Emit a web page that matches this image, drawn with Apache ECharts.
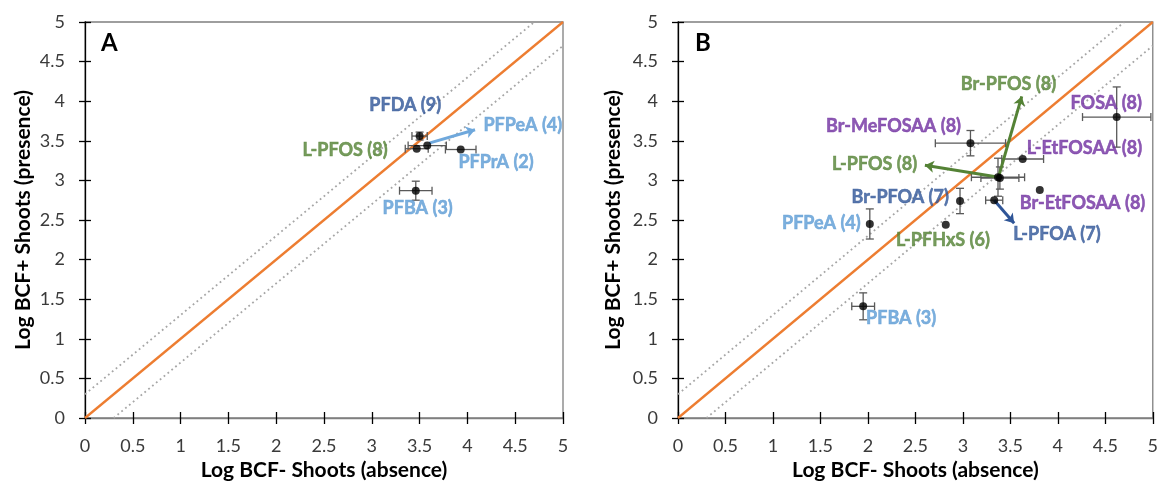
<!DOCTYPE html>
<html><head><meta charset="utf-8">
<script src="https://cdn.jsdelivr.net/npm/echarts@6/dist/echarts.min.js"></script>
<style>html,body{margin:0;padding:0;background:#fff}#c{width:1161px;height:488px}</style>
</head><body><div id="c"></div>
<script>
// ---- data ----
const axisMin = 0, axisMax = 5, tickStep = 0.5;
const refOffset = 0.3; // dotted lines y = x ± offset

const aNames = ['PFDA (9)', 'L-PFOS (8)', 'PFPeA (4)', 'PFPrA (2)', 'PFBA (3)'];
const aX    = [3.50, 3.47, 3.58, 3.93, 3.46];
const aY    = [3.56, 3.40, 3.44, 3.39, 2.87];
const aXErr = [0.08, 0.12, 0.20, 0.16, 0.17];
const aYErr = [0.05, 0.00, 0.00, 0.00, 0.12];

const bNames = ['FOSA (8)', 'Br-MeFOSAA (8)', 'L-EtFOSAA (8)', 'L-PFOS (8)', 'Br-PFOS (8)', 'Br-EtFOSAA (8)', 'L-PFOA (7)', 'Br-PFOA (7)', 'PFPeA (4)', 'L-PFHxS (6)', 'PFBA (3)'];
const bX    = [4.62, 3.08, 3.63, 3.37, 3.39, 3.81, 3.33, 2.97, 2.02, 2.82, 1.95];
const bY    = [3.80, 3.47, 3.27, 3.04, 3.03, 2.88, 2.75, 2.74, 2.45, 2.44, 1.41];
const bXErr = [0.36, 0.37, 0.22, 0.28, 0.20, 0.00, 0.09, 0.00, 0.00, 0.00, 0.12];
const bYErr = [0.38, 0.16, 0.00, 0.24, 0.14, 0.00, 0.00, 0.16, 0.19, 0.00, 0.17];

// ---- annotations (label anchors and arrows, in data units) ----
const lightBlue = '#5B9BD5', darkBlue = '#2F5597', green = '#548235', purple = '#7030A0';
const aLabels = [
  {t: 'PFDA (9)',   x: 3.35, y: 3.95, c: darkBlue},
  {t: 'L-PFOS (8)', x: 2.72, y: 3.38, c: green},
  {t: 'PFPeA (4)',  x: 4.58, y: 3.70, c: lightBlue},
  {t: 'PFPrA (2)',  x: 4.30, y: 3.23, c: lightBlue},
  {t: 'PFBA (3)',   x: 3.48, y: 2.65, c: lightBlue}
];
const bLabels = [
  {t: 'Br-PFOS (8)',    x: 3.48, y: 4.22, c: green},
  {t: 'FOSA (8)',       x: 4.51, y: 3.98, c: purple},
  {t: 'Br-MeFOSAA (8)', x: 2.27, y: 3.68, c: purple},
  {t: 'L-EtFOSAA (8)',  x: 4.28, y: 3.41, c: purple},
  {t: 'L-PFOS (8)',     x: 2.07, y: 3.21, c: green},
  {t: 'Br-PFOA (7)',    x: 2.34, y: 2.79, c: darkBlue},
  {t: 'Br-EtFOSAA (8)', x: 4.26, y: 2.71, c: purple},
  {t: 'PFPeA (4)',      x: 1.51, y: 2.46, c: lightBlue},
  {t: 'L-PFHxS (6)',    x: 2.79, y: 2.25, c: green},
  {t: 'L-PFOA (7)',     x: 3.99, y: 2.32, c: darkBlue},
  {t: 'PFBA (3)',       x: 2.35, y: 1.26, c: lightBlue}
];
const aArrows = [
  {from: [3.60, 3.47], to: [4.08, 3.64], c: '#6FA8DC'}
];
const bArrows = [
  {from: [3.38, 3.06], to: [3.62, 4.06], c: green},
  {from: [3.38, 3.04], to: [2.60, 3.19], c: green},
  {from: [3.33, 2.75], to: [3.54, 2.46], c: darkBlue}
];

// ---- chart ----
const FONT = 'Lato, "Open Sans", sans-serif';
const chart = echarts.init(document.getElementById('c'), null, {renderer: 'canvas'});

function fmt(v) { return String(v); }

function makeAxes(gi, isX, nameGap) {
  const main = {
    type: 'value', gridIndex: gi, min: axisMin, max: axisMax, interval: tickStep,
    splitLine: {show: false},
    axisLine: {show: true, onZero: false, lineStyle: {color: isX ? '#7f7f7f' : '#000', width: 1.3}},
    axisTick: {show: true, length: 6, lineStyle: {color: '#000', width: 1.3}},
    axisLabel: {color: '#3a3a3a', fontSize: 18, fontFamily: FONT, margin: isX ? 19 : 20, formatter: fmt},
    name: isX ? 'Log BCF- Shoots (absence)' : 'Log BCF+ Shoots (presence)',
    nameLocation: 'middle', nameGap: nameGap,
    nameTextStyle: {fontSize: 21, fontWeight: 'bold', color: '#000', fontFamily: FONT}
  };
  const inner = {
    type: 'value', gridIndex: gi, min: axisMin, max: axisMax, interval: tickStep,
    position: isX ? 'bottom' : 'left',
    splitLine: {show: false},
    axisLine: {show: false},
    axisTick: {show: true, inside: true, length: 6, lineStyle: {color: '#000', width: 1.3}},
    axisLabel: {show: false}
  };
  return [main, inner];
}

const xAxes = [].concat(makeAxes(0, true, 37), makeAxes(1, true, 37));
const yAxes = [].concat(makeAxes(0, false, 51), makeAxes(1, false, 54));

function errSeries(gi, xs, ys, xe, ye) {
  const data = xs.map((x, i) => [x, ys[i], xe[i], ye[i]]);
  return {
    type: 'custom', xAxisIndex: gi * 2, yAxisIndex: gi * 2, z: 3,
    data: data,
    renderItem: function (params, api) {
      const x = api.value(0), y = api.value(1), ex = api.value(2), ey = api.value(3);
      const children = [];
      const st = {stroke: '#595959', lineWidth: 1.3};
      const cap = 4;
      if (ex > 0) {
        const p1 = api.coord([x - ex, y]), p2 = api.coord([x + ex, y]);
        children.push({type: 'line', shape: {x1: p1[0], y1: p1[1], x2: p2[0], y2: p2[1]}, style: st});
        children.push({type: 'line', shape: {x1: p1[0], y1: p1[1] - cap, x2: p1[0], y2: p1[1] + cap}, style: st});
        children.push({type: 'line', shape: {x1: p2[0], y1: p2[1] - cap, x2: p2[0], y2: p2[1] + cap}, style: st});
      }
      if (ey > 0) {
        const p1 = api.coord([x, y - ey]), p2 = api.coord([x, y + ey]);
        children.push({type: 'line', shape: {x1: p1[0], y1: p1[1], x2: p2[0], y2: p2[1]}, style: st});
        children.push({type: 'line', shape: {x1: p1[0] - cap, y1: p1[1], x2: p1[0] + cap, y2: p1[1]}, style: st});
        children.push({type: 'line', shape: {x1: p2[0] - cap, y1: p2[1], x2: p2[0] + cap, y2: p2[1]}, style: st});
      }
      return {type: 'group', children: children};
    }
  };
}

function refSeries(gi) {
  const base = {type: 'line', xAxisIndex: gi * 2, yAxisIndex: gi * 2, symbol: 'none', silent: true};
  return [
    Object.assign({}, base, {data: [[axisMin, axisMin + refOffset], [axisMax - refOffset, axisMax]], z: 1,
      lineStyle: {color: '#A6A6A6', width: 1.8, type: [1.8, 3.2]}}),
    Object.assign({}, base, {data: [[axisMin + refOffset, axisMin], [axisMax, axisMax - refOffset]], z: 1,
      lineStyle: {color: '#A6A6A6', width: 1.8, type: [1.8, 3.2]}}),
    Object.assign({}, base, {data: [[axisMin, axisMin], [axisMax, axisMax]], z: 2,
      lineStyle: {color: '#ED7D31', width: 2.3}})
  ];
}

function pointSeries(gi, xs, ys) {
  return {
    type: 'scatter', xAxisIndex: gi * 2, yAxisIndex: gi * 2, z: 5,
    symbolSize: 8, itemStyle: {color: '#000'},
    data: xs.map((x, i) => [x, ys[i]])
  };
}

function labelSeries(gi, labels) {
  return {
    type: 'scatter', xAxisIndex: gi * 2, yAxisIndex: gi * 2, z: 6, symbolSize: 1,
    itemStyle: {color: 'rgba(0,0,0,0)'}, silent: true,
    data: labels.map(l => ({
      value: [l.x, l.y],
      label: {show: true, position: 'inside', formatter: l.t, color: l.c,
        textBorderColor: l.c, textBorderWidth: 0.5,
        fontSize: 18, fontWeight: 'bold', fontFamily: FONT}
    }))
  };
}

function arrowSeries(gi, arrows) {
  return {
    type: 'lines', coordinateSystem: 'cartesian2d', xAxisIndex: gi * 2, yAxisIndex: gi * 2, z: 4,
    symbol: ['none', 'arrow'], symbolSize: 9,
    data: arrows.map(a => ({coords: [a.from, a.to], lineStyle: {color: a.c, width: 3}})),
    lineStyle: {opacity: 1}
  };
}

const option = {
  animation: false,
  backgroundColor: '#fff',
  title: [
    {text: 'A', left: 96, top: 26, textStyle: {fontSize: 24, fontWeight: 'bold', color: '#000', fontFamily: FONT}},
    {text: 'B', left: 690, top: 26, textStyle: {fontSize: 24, fontWeight: 'bold', color: '#000', fontFamily: FONT}}
  ],
  grid: [
    {left: 85, right: 598, top: 22, bottom: 70, show: true, borderColor: '#7f7f7f', borderWidth: 1.3},
    {left: 678, right: 4, top: 22, bottom: 70, show: true, borderColor: '#7f7f7f', borderWidth: 1.3}
  ],
  xAxis: xAxes.map((a, i) => Object.assign(a, {gridIndex: i < 2 ? 0 : 1})),
  yAxis: yAxes.map((a, i) => Object.assign(a, {gridIndex: i < 2 ? 0 : 1})),
  series: [].concat(
    refSeries(0), refSeries(1),
    [errSeries(0, aX, aY, aXErr, aYErr), errSeries(1, bX, bY, bXErr, bYErr)],
    [pointSeries(0, aX, aY), pointSeries(1, bX, bY)],
    [arrowSeries(0, aArrows), arrowSeries(1, bArrows)],
    [labelSeries(0, aLabels), labelSeries(1, bLabels)]
  )
};
chart.setOption(option);
</script>
</body></html>
